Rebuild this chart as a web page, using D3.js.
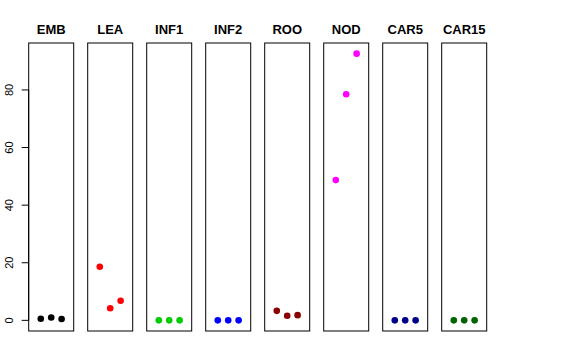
<!DOCTYPE html>
<html>
<head>
<meta charset="utf-8">
<script src="https://cdn.jsdelivr.net/npm/d3@7"></script>
<style>
  html, body { margin: 0; padding: 0; background: #fff; }
  svg { display: block; font-family: "Liberation Sans", Arial, sans-serif; }
</style>
</head>
<body>
<div id="chart"></div>
<script>
const width = 576;
const height = 360;

const tissues = ["EMB", "LEA", "INF1", "INF2", "ROO", "NOD", "CAR5", "CAR15"];
const colors = ["#000000", "#ff0000", "#00cd00", "#0000ff", "#8b0000", "#ff00ff", "#00008b", "#006400"];
const replicates = [1, 2, 3];
const values = [
  [0.55, 1.0, 0.45],
  [18.6, 4.2, 6.8],
  [0, 0, 0],
  [0, 0, 0],
  [3.3, 1.6, 1.8],
  [48.7, 78.5, 92.6],
  [0, 0, 0],
  [0, 0, 0],
];
const yTicks = [0, 20, 40, 60, 80];

const svg = d3
  .select("#chart")
  .append("svg")
  .attr("width", width)
  .attr("height", height)
  .attr("viewBox", `0 0 ${width} ${height}`);

const panel = d3
  .scaleBand()
  .domain(tissues)
  .range([28.7, 486.7])
  .paddingInner(14 / 59);

const y = d3.scaleLinear().domain([-3.7, 96.3]).range([331, 43]);

const x = d3.scaleLinear().domain([-0.16, 4.16]).range([0, panel.bandwidth()]);

// y axis on the first panel only
const axis = svg.append("g").attr("transform", `translate(${panel(tissues[0])},0)`);
axis
  .append("line")
  .attr("y1", y(0))
  .attr("y2", y(80))
  .attr("stroke", "#000");
axis
  .selectAll(".tick")
  .data(yTicks)
  .join("line")
  .attr("x1", -7)
  .attr("x2", 0)
  .attr("y1", (d) => y(d))
  .attr("y2", (d) => y(d))
  .attr("stroke", "#000");
axis
  .selectAll(".lab")
  .data(yTicks)
  .join("text")
  .attr("transform", (d) => `translate(-16,${y(d)}) rotate(-90)`)
  .attr("text-anchor", "middle")
  .attr("font-size", 11)
  .text((d) => d);

const panels = svg
  .selectAll(".panel")
  .data(tissues)
  .join("g")
  .attr("class", "panel")
  .attr("transform", (d) => `translate(${panel(d)},0)`);

panels
  .append("rect")
  .attr("x", 0)
  .attr("y", y(96.3))
  .attr("width", panel.bandwidth())
  .attr("height", y(-3.7) - y(96.3))
  .attr("fill", "none")
  .attr("stroke", "#000");

panels
  .append("text")
  .attr("x", panel.bandwidth() / 2)
  .attr("y", 34)
  .attr("text-anchor", "middle")
  .attr("font-weight", "bold")
  .attr("font-size", 13)
  .text((d) => d);

panels
  .selectAll("circle")
  .data((d, i) => values[i].map((v, j) => ({ rep: replicates[j], v, c: colors[i] })))
  .join("circle")
  .attr("cx", (d) => x(d.rep))
  .attr("cy", (d) => y(d.v))
  .attr("r", 3.3)
  .attr("fill", (d) => d.c);
</script>
</body>
</html>
